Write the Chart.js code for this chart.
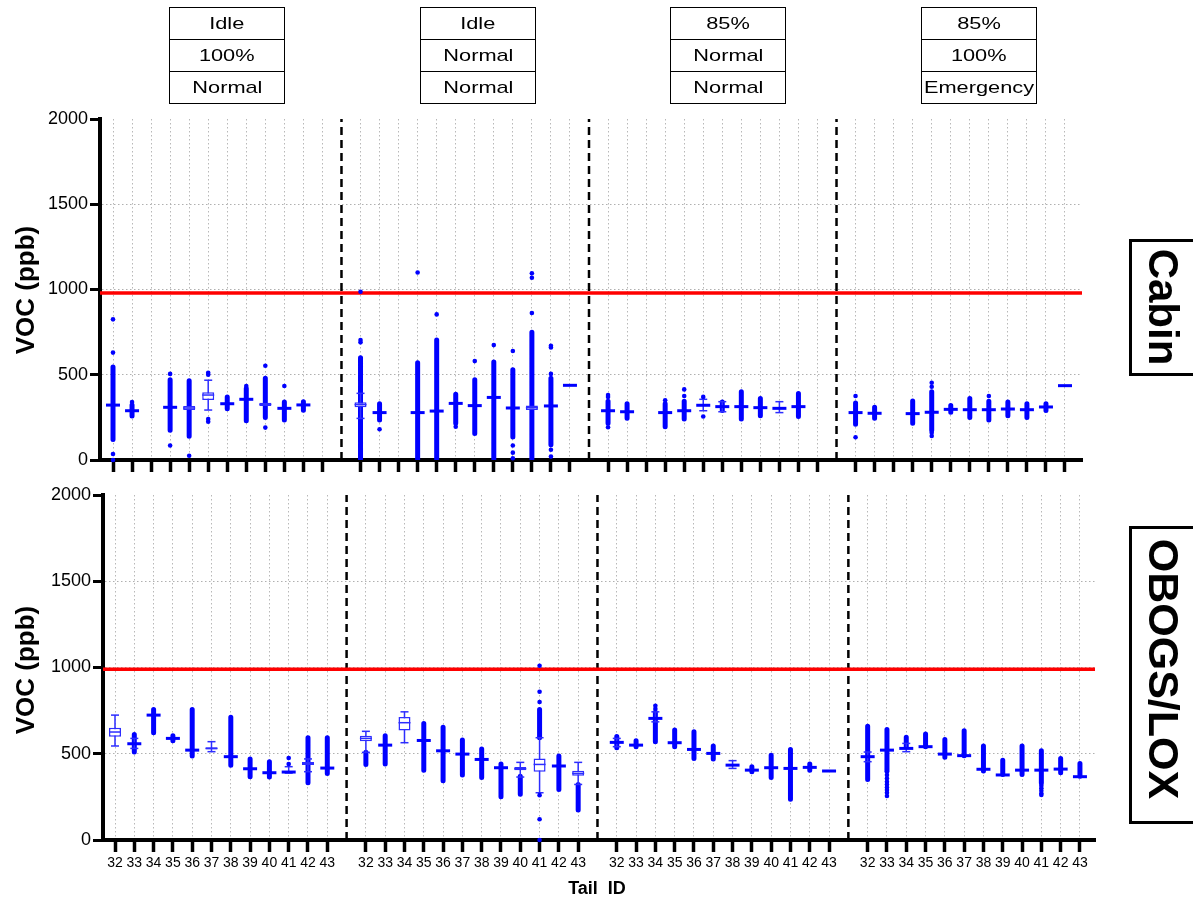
<!DOCTYPE html>
<html>
<head>
<meta charset="utf-8">
<script src="https://cdn.jsdelivr.net/npm/chart.js@4.4.1/dist/chart.umd.min.js"></script>
<style>
  html, body { margin: 0; padding: 0; background: #fff; }
  #wrap { position: relative; width: 1193px; height: 904px; overflow: hidden; background: #fff; }
  canvas { position: absolute; left: 0; top: 0; }
  .hdr { position: absolute; top: 7px; width: 116px; height: 97px; box-sizing: border-box;
         border: 1.5px solid #000; display: flex; flex-direction: column;
         font-family: 'Liberation Sans', Arial, sans-serif; font-size: 17px; color: #000; }
  .hdr div { flex: 1; display: flex; align-items: center; justify-content: center; border-top: 1.5px solid #000; }
  .hdr div:first-child { border-top: none; }
  .hdr span { display: inline-block; transform: scaleX(1.28); }
  .side { position: absolute; left: 1129px; width: 110px; box-sizing: border-box; border: 3px solid #000; }
  .rot { position: absolute; white-space: nowrap; font-family: 'Liberation Sans', Arial, sans-serif;
         font-weight: bold; color: #000; transform: translate(-50%, -50%) rotate(-90deg); }
  .rotcw { transform: translate(-50%, -50%) rotate(90deg); }
  #xtitle { position: absolute; left: 597px; top: 888px; transform: translate(-50%, -50%);
            font-family: 'Liberation Sans', Arial, sans-serif; font-weight: bold; font-size: 18px;
            white-space: pre; color: #000; }
</style>
</head>
<body>
<div id="wrap">
  <canvas id="cabin" width="1193" height="904"></canvas>
  <canvas id="obogs" width="1193" height="904"></canvas>
  <div class="side" style="top:239px;height:137px;"></div>
  <div class="side" style="top:526px;height:298px;"></div>
  <div class="rot rotcw" style="left:1163px;top:307px;font-size:42px;">Cabin</div>
  <div class="rot rotcw" style="left:1163px;top:669px;font-size:43px;">OBOGS/LOX</div>
  <div class="rot" style="left:25px;top:290px;font-size:26px;">VOC (ppb)</div>
  <div class="rot" style="left:25px;top:670px;font-size:26px;">VOC (ppb)</div>
  <div id="xtitle">Tail  ID</div>
</div>
<script>
// Tail IDs and the four test conditions (throttle / O2 concentration / mode)
const tailIds = ['32', '33', '34', '35', '36', '37', '38', '39', '40', '41', '42', '43'];
const conditions = [
  ['Idle', '100%', 'Normal'],
  ['Idle', 'Normal', 'Normal'],
  ['85%', 'Normal', 'Normal'],
  ['85%', '100%', 'Emergency']
];
const headerLefts = [169, 420, 670, 921];

// ---- Cabin VOC (ppb): 4 conditions x 12 tails ----
const cabinLimit = 980;
const cabinMedian = [
  322, 289, null, 309, 305, 381, 330, 356, 326, 303, 323, null,
  325, 278, null, 278, 287, 332, 319, 367, 305, 307, 317, 438,
  289, 283, null, 278, 289, 321, 313, 313, 307, 303, 313, null,
  278, 274, null, 272, 280, 297, 295, 295, 299, 295, 311, 436
];
const cabinBoxLow = [
  null, null, null, null, 293, 352, null, null, 317, null, null, null,
  309, null, null, null, null, null, null, null, null, 293, null, null,
  null, null, null, null, null, null, null, null, null, null, null, null,
  null, null, null, null, null, null, null, null, null, null, null, null
];
const cabinBoxHigh = [
  null, null, null, null, 317, 397, null, null, 336, null, null, null,
  338, null, null, null, null, null, null, null, null, 320, null, null,
  null, null, null, null, null, null, null, null, null, null, null, null,
  null, null, null, null, null, null, null, null, null, null, null, null
];
const cabinWhiskerLow = [
  null, null, null, null, null, 293, null, null, null, null, null, null,
  244, null, null, null, null, null, null, null, null, null, null, null,
  null, null, null, null, null, 289, 283, null, null, 278, null, null,
  null, null, null, null, null, null, null, null, null, null, null, null
];
const cabinWhiskerHigh = [
  null, null, null, null, null, 468, null, null, null, null, null, null,
  391, null, null, null, null, null, null, null, null, null, null, null,
  null, null, null, null, null, 356, 342, null, null, 342, null, null,
  null, null, null, null, null, null, null, null, null, null, null, null
];
const cabinDotsLow = [
  120, 258, null, 175, 140, null, 300, 230, 250, 235, 292, null,
  0, 235, null, 0, 0, 215, 155, 5, 135, 0, 90, null,
  215, 245, null, 195, 240, null, 290, 240, 260, null, 255, null,
  210, 245, null, 215, 175, 280, 250, 235, 260, 250, 290, null
];
const cabinDotsHigh = [
  545, 322, null, 470, 465, null, 370, 420, 480, 340, 342, null,
  600, 330, null, 570, 704, 385, 470, 575, 530, 750, 480, null,
  345, 330, null, 330, 345, null, 340, 400, 360, null, 390, null,
  335, 310, null, 346, 400, 320, 360, 345, 340, 330, 330, null
];
const cabinOutliers = [
  [0, 35, 630, 825], [340], [], [85, 505], [25], [225, 240, 500, 512], [], [434], [190, 553], [434], [], [],
  [690, 704, 987], [180], [], [1100], [854], [195], [580], [674], [639, 85, 43, 10], [862, 1069, 1095], [670, 660, 505, 60, 20], [],
  [192, 370, 381], [], [], [350], [375, 414], [255, 370], [], [], [], [], [], [],
  [133, 375], [], [], [], [453, 430, 141, 160], [], [], [375], [], [], [], []
];

// ---- OBOGS/LOX VOC (ppb) ----
const obogsLimit = 990;
const obogsMedian = [
  626, 558, 724, 589, 521, 531, 483, 413, 390, 394, 444, 417,
  589, 550, 680, 577, 517, 498, 467, 419, 413, 438, 429, 386,
  566, 550, 705, 564, 525, 502, 434, 405, 419, 415, 421, 400,
  483, 521, 531, 541, 498, 489, 410, 377, 405, 405, 411, 367
];
const obogsBoxLow = [
  599, null, null, null, null, 525, null, null, null, null, 435, null,
  572, null, 635, null, null, null, null, null, 404, 396, null, 373,
  null, null, null, null, null, null, null, null, null, null, null, null,
  null, null, null, null, null, null, null, null, null, null, null, null
];
const obogsBoxHigh = [
  651, null, null, null, null, 537, null, null, null, null, 452, null,
  604, null, 713, null, null, null, null, null, 423, 473, null, 402,
  null, null, null, null, null, null, null, null, null, null, null, null,
  null, null, null, null, null, null, null, null, null, null, null, null
];
const obogsWhiskerLow = [
  545, 531, null, null, null, 512, null, null, null, 388, 396, null,
  508, null, 564, null, null, null, null, null, 365, 274, null, 322,
  541, null, 685, null, null, null, 415, null, null, null, null, null,
  454, null, 512, null, null, null, null, null, null, null, null, null
];
const obogsWhiskerHigh = [
  724, 589, null, null, null, 570, null, null, null, 425, 470, null,
  630, null, 743, null, null, null, null, null, 450, 593, null, 450,
  589, null, 743, null, null, null, 460, null, null, null, null, null,
  510, null, 560, null, null, null, null, null, null, null, null, null
];
const obogsDotsLow = [
  null, 510, 622, 575, 487, null, 434, 367, 365, null, 332, 386,
  438, 440, null, 405, 344, 377, 363, 251, 265, 593, 293, 174,
  535, 540, 570, 540, 473, 470, null, 395, 363, 236, 405, null,
  351, 400, 540, 541, 480, 489, 400, 380, 380, 330, 390, 370
];
const obogsDotsHigh = [
  null, 612, 757, 605, 757, null, 711, 470, 454, null, 593, 593,
  508, 604, null, 676, 653, 579, 527, 440, 370, 757, 487, 322,
  600, 575, 740, 637, 628, 545, null, 425, 492, 525, 440, null,
  660, 641, 595, 614, 583, 633, 545, 463, 545, 517, 473, 444
];
const obogsOutliers = [
  [], [], [], [], [], [], [], [], [], [440, 475], [], [],
  [], [], [], [], [], [], [], [], [], [800, 859, 1010, 260, 120, 0], [], [],
  [], [], [760, 778], [], [], [], [], [], [], [], [], [],
  [], [396, 377, 357, 338, 322, 305, 290, 274, 255], [], [], [], [], [], [], [], [315, 300, 285, 270, 261], [], []
];

const yTicks = [0, 500, 1000, 1500, 2000];
const FONT = "'Liberation Sans', Arial, sans-serif";
const BLUE = '#0000ff';
const BOX_BLUE = '#2d2dff';

// each condition occupies 12 slots followed by one empty slot holding the separator
function slotOf(i) { return Math.floor(i / 12) * 13 + (i % 12); }
const tickSlots = Array.from({ length: 48 }, (_, i) => slotOf(i));
const separatorSlots = [12, 25, 38];

// header tables above the panels
conditions.forEach((rows, g) => {
  const box = document.createElement('div');
  box.className = 'hdr';
  box.style.left = headerLefts[g] + 'px';
  rows.forEach(t => {
    const r = document.createElement('div');
    const s = document.createElement('span');
    s.textContent = t;
    r.appendChild(s);
    box.appendChild(r);
  });
  document.getElementById('wrap').appendChild(box);
});

function segments(lows, highs) {
  const pts = [];
  lows.forEach((lo, i) => {
    const hi = highs[i];
    if (lo == null || hi == null) return;
    const x = slotOf(i);
    pts.push({ x, y: lo }, { x, y: hi }, { x, y: null });
  });
  return pts;
}

function buildPanel(canvasId, d, geo) {
  const separators = [];
  separatorSlots.forEach(s => separators.push({ x: s, y: 0 }, { x: s, y: 2000 }, { x: s, y: null }));

  const boxes = [];
  d.boxLow.forEach((lo, i) => {
    if (lo != null && d.boxHigh[i] != null) boxes.push({ x: slotOf(i), y: [lo, d.boxHigh[i]] });
  });
  const caps = [];
  d.whiskerLow.forEach((lo, i) => {
    if (lo != null) caps.push({ x: slotOf(i), y: lo });
    if (d.whiskerHigh[i] != null) caps.push({ x: slotOf(i), y: d.whiskerHigh[i] });
  });
  const medians = [];
  d.median.forEach((m, i) => {
    if (m != null) medians.push({ x: slotOf(i), y: m, boxed: d.boxLow[i] != null });
  });
  const outliers = [];
  d.outliers.forEach((list, i) => list.forEach(v => outliers.push({ x: slotOf(i), y: v })));

  return new Chart(document.getElementById(canvasId), {
    type: 'scatter',
    data: {
      datasets: [
        { type: 'line', data: separators, borderColor: '#000', borderWidth: 2.5, borderDash: [8, 5],
          pointRadius: 0, spanGaps: false, fill: false, order: 9 },
        { type: 'line', data: [{ x: geo.xMin, y: d.limit }, { x: geo.xMax, y: d.limit }],
          borderColor: '#ff0000', borderWidth: 3.5, pointRadius: 0, fill: false, order: 8 },
        { type: 'line', data: segments(d.dotsLow, d.dotsHigh), borderColor: BLUE, borderWidth: 5,
          borderCapStyle: 'round', pointRadius: 0, spanGaps: false, fill: false, order: 7 },
        { type: 'line', data: segments(d.whiskerLow, d.whiskerHigh), borderColor: BOX_BLUE, borderWidth: 1.5,
          pointRadius: 0, spanGaps: false, fill: false, order: 6 },
        { type: 'bar', data: boxes, backgroundColor: '#ffffff', borderColor: BOX_BLUE, borderWidth: 1.5,
          borderSkipped: false, grouped: false, maxBarThickness: 12, order: 5 },
        { type: 'scatter', data: caps, pointStyle: 'line', pointRadius: 4, pointBorderWidth: 1.5,
          borderColor: BOX_BLUE, backgroundColor: BOX_BLUE, order: 4 },
        { type: 'scatter', data: medians, pointStyle: 'line',
          pointRadius: c => (c.raw && c.raw.boxed ? 6 : 7),
          pointBorderWidth: c => (c.raw && c.raw.boxed ? 1.5 : 3),
          borderColor: c => (c.raw && c.raw.boxed ? BOX_BLUE : BLUE),
          backgroundColor: BLUE, order: 3 },
        { type: 'scatter', data: outliers, pointRadius: 2.3, pointBorderWidth: 0,
          backgroundColor: BLUE, borderColor: BLUE, clip: false, order: 2 }
      ]
    },
    options: {
      responsive: false,
      animation: false,
      events: [],
      devicePixelRatio: 1,
      layout: { padding: geo.padding },
      plugins: { legend: { display: false }, tooltip: { enabled: false }, title: { display: false } },
      scales: {
        x: {
          type: 'linear', min: geo.xMin, max: geo.xMax, offset: false,
          afterBuildTicks: s => { s.ticks = tickSlots.map(v => ({ value: v })); },
          afterFit: s => { s.height = 30; },
          ticks: { display: geo.labels, autoSkip: false, maxRotation: 0, minRotation: 0, padding: 3,
                   color: '#000', font: { family: FONT, size: 14 },
                   callback: v => tailIds[v % 13] },
          grid: { offset: false, color: '#b8b8b8', lineWidth: 1, tickColor: '#000', tickWidth: 3.5, tickLength: 12 },
          border: { color: '#000', width: 4, dash: [1.5, 2.5] }
        },
        y: {
          type: 'linear', min: 0, max: 2000, offset: false,
          afterBuildTicks: s => { s.ticks = yTicks.map(v => ({ value: v })); },
          afterFit: s => { s.width = 60; },
          ticks: { color: '#000', padding: 2, font: { family: FONT, size: 18 }, callback: v => String(v) },
          grid: { color: c => (c.tick && (c.tick.value === 0 || c.tick.value === 2000) ? 'rgba(0,0,0,0)' : '#b0b0b0'),
                  lineWidth: 1, tickColor: '#000', tickWidth: 3, tickLength: 10 },
          border: { color: '#000', width: 4, dash: [1.5, 2.5] }
        }
      }
    }
  });
}

buildPanel('cabin', {
  limit: cabinLimit, median: cabinMedian, boxLow: cabinBoxLow, boxHigh: cabinBoxHigh,
  whiskerLow: cabinWhiskerLow, whiskerHigh: cabinWhiskerHigh,
  dotsLow: cabinDotsLow, dotsHigh: cabinDotsHigh, outliers: cabinOutliers
}, {
  xMin: -0.683, xMax: 50.893, labels: false,
  padding: { left: 40, right: 111, top: 119, bottom: 414 }
});

buildPanel('obogs', {
  limit: obogsLimit, median: obogsMedian, boxLow: obogsBoxLow, boxHigh: obogsBoxHigh,
  whiskerLow: obogsWhiskerLow, whiskerHigh: obogsWhiskerHigh,
  dotsLow: obogsDotsLow, dotsHigh: obogsDotsHigh, outliers: obogsOutliers
}, {
  xMin: -0.622, xMax: 50.78, labels: true,
  padding: { left: 43, right: 98, top: 495, bottom: 34 }
});
</script>
</body>
</html>
